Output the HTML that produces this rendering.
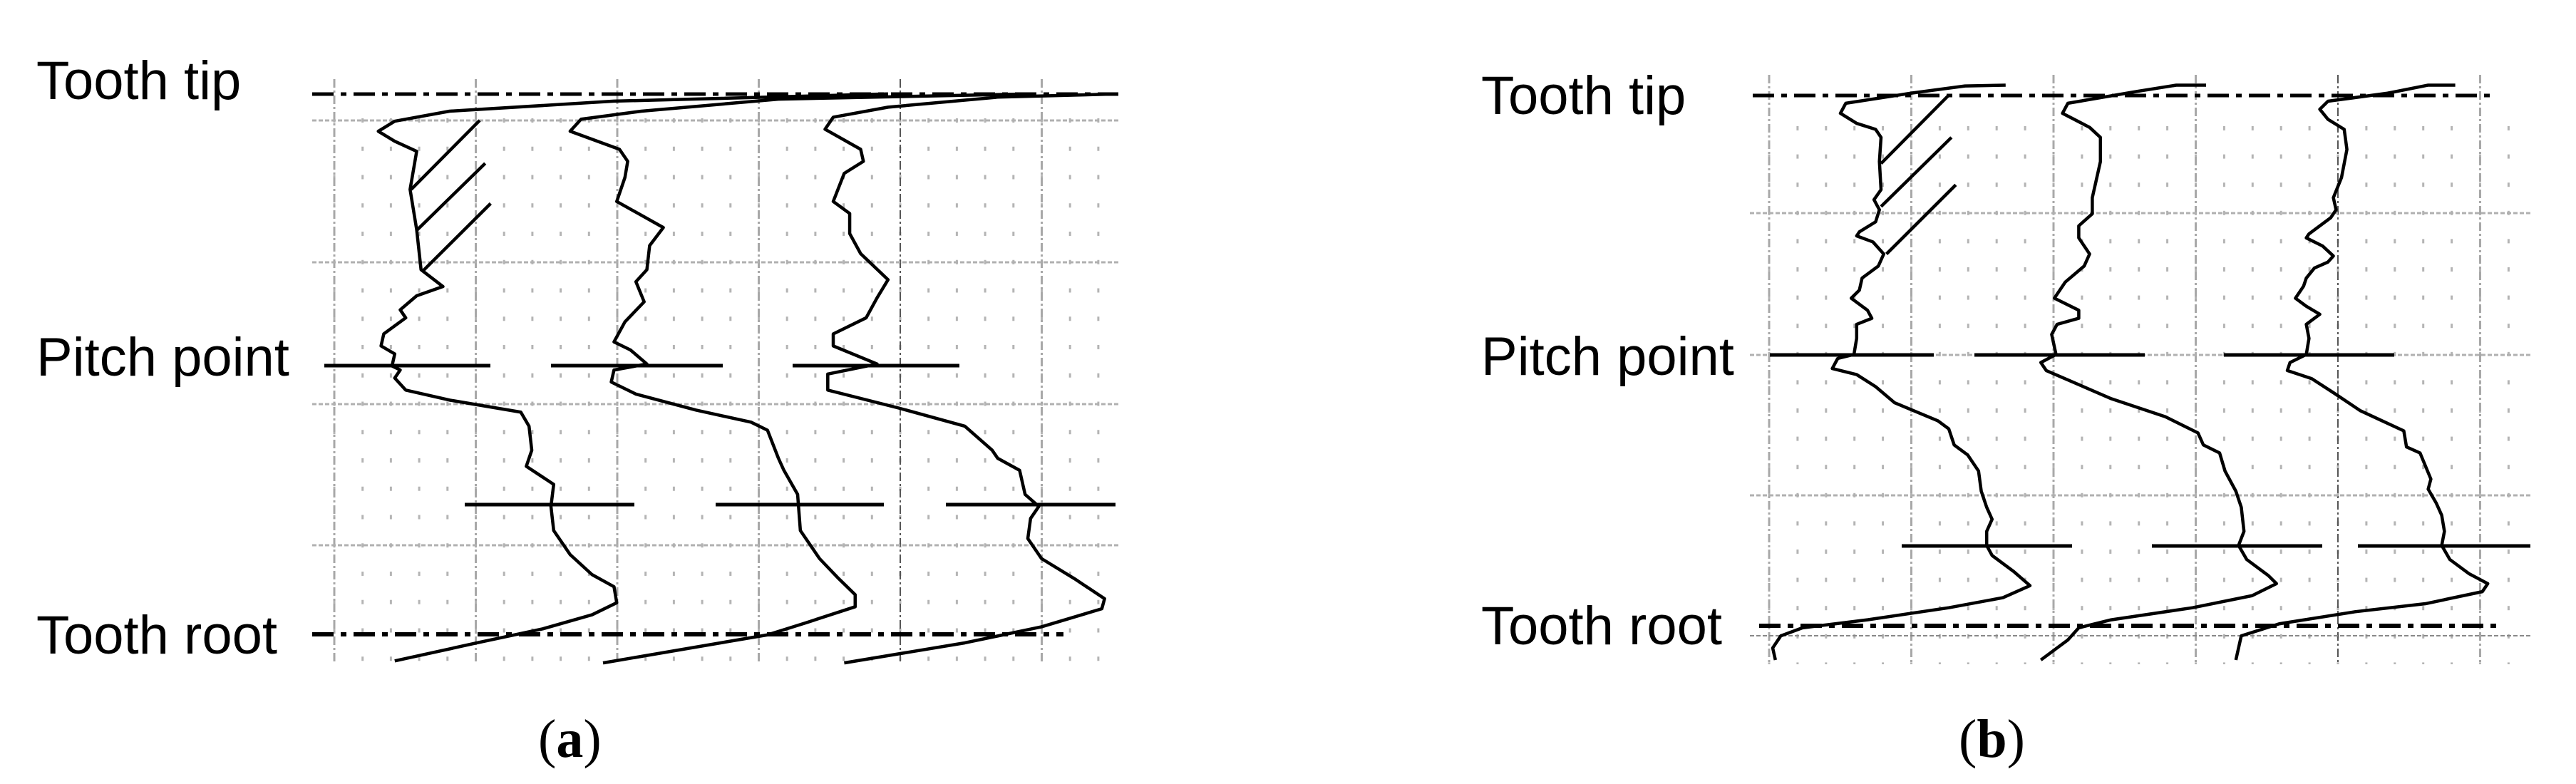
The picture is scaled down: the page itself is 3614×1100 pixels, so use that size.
<!DOCTYPE html>
<html><head><meta charset="utf-8"><style>
html,body{margin:0;padding:0;background:#fff;}
svg{display:block;}
.lbl{font-family:"Liberation Sans",sans-serif;font-size:76px;fill:#000;}
.cap{font-family:"Liberation Serif",serif;font-size:76px;fill:#000;}
</style></head><body>
<svg width="3614" height="1100" viewBox="0 0 3614 1100" xmlns="http://www.w3.org/2000/svg">
<defs>
<pattern id="pA" patternUnits="userSpaceOnUse" x="467.5" y="166" width="39.7" height="39.75">
<rect x="0" y="0" width="3" height="6" fill="#b4b4b4"/>
</pattern>
<pattern id="pB" patternUnits="userSpaceOnUse" x="2480.5" y="177" width="39.9" height="39.6">
<rect x="0" y="0" width="3" height="6" fill="#b4b4b4"/>
</pattern>
</defs>
<text class="lbl" x="51" y="139">Tooth tip</text>
<text class="lbl" x="51" y="527">Pitch point</text>
<text class="lbl" x="51" y="917">Tooth root</text>
<text class="lbl" x="2078" y="160">Tooth tip</text>
<text class="lbl" x="2078" y="526">Pitch point</text>
<text class="lbl" x="2078" y="904">Tooth root</text>
<text class="cap" x="755" y="1062">(<tspan font-weight="bold">a</tspan>)</text>
<text class="cap" x="2748" y="1062">(<tspan font-weight="bold">b</tspan>)</text>

<!-- Grid A -->
<rect x="460" y="160" width="1100" height="772" fill="url(#pA)"/>
<g fill="none">
<g stroke="#a8a8a8" stroke-width="3" stroke-dasharray="12 4 3 4">
<line x1="469" y1="111" x2="469" y2="930"/>
<line x1="667.5" y1="111" x2="667.5" y2="930"/>
<line x1="866" y1="111" x2="866" y2="930"/>
<line x1="1064.5" y1="111" x2="1064.5" y2="930"/>
<line x1="1461.5" y1="111" x2="1461.5" y2="930"/>
</g>
<line x1="1263" y1="111" x2="1263" y2="930" stroke="#555" stroke-width="2" stroke-dasharray="12 4 3 4"/>
<g stroke="#b0b0b0" stroke-width="3" stroke-dasharray="6 3">
<line x1="438" y1="169" x2="1570" y2="169"/>
<line x1="438" y1="368" x2="1570" y2="368"/>
<line x1="438" y1="567" x2="1570" y2="567"/>
<line x1="438" y1="765" x2="1570" y2="765"/>
</g>
</g>

<!-- Grid B -->
<rect x="2475" y="172" width="1080" height="760" fill="url(#pB)"/>
<g fill="none">
<g stroke="#a8a8a8" stroke-width="3" stroke-dasharray="12 4 3 4">
<line x1="2482" y1="105" x2="2482" y2="932"/>
<line x1="2681.5" y1="105" x2="2681.5" y2="932"/>
<line x1="2881" y1="105" x2="2881" y2="932"/>
<line x1="3080.5" y1="105" x2="3080.5" y2="932"/>
<line x1="3479.5" y1="105" x2="3479.5" y2="932"/>
</g>
<line x1="3280" y1="105" x2="3280" y2="932" stroke="#555" stroke-width="2" stroke-dasharray="12 4 3 4"/>
<g stroke="#b0b0b0" stroke-width="3" stroke-dasharray="6 3">
<line x1="2455" y1="299" x2="3550" y2="299"/>
<line x1="2455" y1="498" x2="3550" y2="498"/>
<line x1="2455" y1="695" x2="3550" y2="695"/>
</g>
<line x1="2455" y1="892" x2="3550" y2="892" stroke="#888" stroke-width="2" stroke-dasharray="6 3"/>
</g>

<!-- Panel A curves -->
<g transform="translate(400,80) scale(0.769,0.563)" fill="none" stroke="#000" stroke-width="4.5" stroke-linejoin="round">
<polyline vector-effect="non-scaling-stroke" points="355,158 230,330"/>
<polyline vector-effect="non-scaling-stroke" points="365,265 240,432"/>
<polyline vector-effect="non-scaling-stroke" points="375,365 250,535"/>
<polyline vector-effect="non-scaling-stroke" points="1100,92 600,110 300,135 200,160 170,185 200,210 240,235 228,330 240,430 248,530 288,572 240,595 210,630 220,650 180,690 175,720 200,740 195,770 210,780 200,800 220,830 300,855 430,885 445,920 450,980 440,1020 490,1065 485,1120 490,1180 520,1240 560,1290 600,1320 605,1360 560,1390 470,1425 350,1460 200,1505"/>
<polyline vector-effect="non-scaling-stroke" points="1360,92 900,105 650,135 540,155 520,185 610,230 625,260 620,300 605,360 690,425 665,470 660,530 640,560 655,610 620,660 600,710 630,730 660,765 600,780 595,810 640,840 750,880 850,910 880,930 900,1000 910,1030 935,1090 940,1180 975,1250 1010,1300 1040,1340 1040,1370 950,1410 880,1440 580,1510"/>
<polyline vector-effect="non-scaling-stroke" points="1520,92 1300,100 1100,125 1000,150 985,180 1050,230 1055,260 1020,290 1000,360 1030,390 1030,440 1050,490 1100,555 1080,600 1060,650 1000,690 1000,720 1080,765 990,790 990,830 1120,875 1240,920 1290,980 1300,1000 1340,1030 1350,1090 1375,1120 1360,1150 1355,1200 1380,1250 1440,1300 1495,1350 1490,1375 1380,1420 1240,1460 1020,1510"/>
</g>

<!-- Panel B curves -->
<g transform="translate(2430,80) scale(0.76,0.564)" fill="none" stroke="#000" stroke-width="4.5" stroke-linejoin="round">
<polyline vector-effect="non-scaling-stroke" points="400,95 275,265"/>
<polyline vector-effect="non-scaling-stroke" points="405,200 275,372"/>
<polyline vector-effect="non-scaling-stroke" points="413,318 285,490"/>
<polyline vector-effect="non-scaling-stroke" points="505,70 430,72 330,90 210,115 200,140 230,165 265,180 275,200 272,260 275,330 262,355 272,380 265,410 235,435 230,445 260,460 280,490 270,520 240,550 235,580 220,600 250,630 258,650 230,665 230,700 225,740 195,750 185,775 230,790 265,820 300,860 380,905 400,925 410,965 435,990 455,1030 460,1080 470,1120 480,1150 470,1180 470,1215 480,1240 520,1280 550,1315 500,1345 400,1370 250,1400 130,1420 90,1440 75,1470 80,1500"/>
<polyline vector-effect="non-scaling-stroke" points="875,70 820,70 750,85 620,115 610,140 660,175 680,200 680,260 665,350 665,390 640,420 640,450 660,490 650,520 615,560 595,600 640,630 640,650 600,665 590,690 598,740 570,760 580,780 700,850 800,895 860,935 870,965 900,985 910,1030 930,1080 940,1120 945,1180 935,1215 950,1250 990,1290 1005,1310 960,1340 850,1370 700,1400 640,1420 620,1450 570,1500"/>
<polyline vector-effect="non-scaling-stroke" points="1335,70 1285,70 1210,90 1100,110 1085,130 1100,155 1130,180 1135,230 1125,300 1110,350 1115,380 1105,400 1065,440 1060,450 1090,470 1110,495 1100,510 1075,525 1060,550 1055,570 1040,600 1060,620 1085,640 1060,665 1065,700 1060,740 1030,760 1025,780 1070,800 1110,835 1160,880 1200,905 1240,930 1245,970 1270,985 1290,1050 1285,1075 1300,1110 1310,1140 1315,1180 1310,1215 1325,1250 1360,1285 1395,1310 1385,1330 1280,1360 1150,1380 1010,1410 940,1440 930,1500"/>
</g>

<!-- Straight lines -->
<g stroke="#000" fill="none">
<line x1="438" y1="132" x2="1569" y2="132" stroke-width="5" stroke-dasharray="30 10 8 10"/>
<line x1="438" y1="890" x2="1492" y2="890" stroke-width="6" stroke-dasharray="30 10 8 10"/>
<g stroke-width="5">
<line x1="455" y1="513" x2="688" y2="513"/>
<line x1="773" y1="513" x2="1014" y2="513"/>
<line x1="1112" y1="513" x2="1346" y2="513"/>
<line x1="652" y1="708" x2="890" y2="708"/>
<line x1="1004" y1="708" x2="1240" y2="708"/>
<line x1="1327" y1="708" x2="1565" y2="708"/>
</g>
<line x1="2459" y1="134" x2="3502" y2="134" stroke-width="5" stroke-dasharray="30 10 8 10"/>
<line x1="2468" y1="878" x2="3502" y2="878" stroke-width="6" stroke-dasharray="30 10 8 10"/>
<g stroke-width="5">
<line x1="2483" y1="498" x2="2713" y2="498"/>
<line x1="2770" y1="498" x2="3009" y2="498"/>
<line x1="3120" y1="498" x2="3359" y2="498"/>
<line x1="2668" y1="766" x2="2907" y2="766"/>
<line x1="3019" y1="766" x2="3258" y2="766"/>
<line x1="3308" y1="766" x2="3550" y2="766"/>
</g>
</g>
</svg>
</body></html>
